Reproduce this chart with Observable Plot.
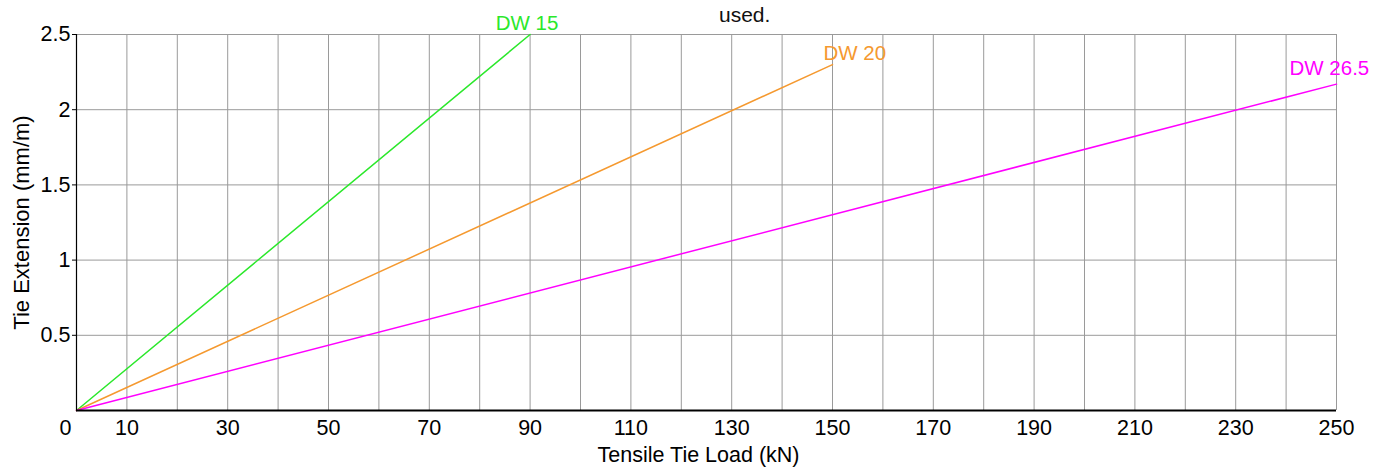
<!DOCTYPE html>
<html><head><meta charset="utf-8">
<script src="https://cdn.jsdelivr.net/npm/d3@7"></script>
<script src="https://cdn.jsdelivr.net/npm/@observablehq/plot@0.6"></script>
<style>
body{margin:0;background:#fff;font-family:"Liberation Sans",Arial,sans-serif;}
#wrap{position:relative;width:1386px;height:469px;overflow:hidden;}
#note{position:absolute;left:719px;top:5px;font-size:21px;line-height:20px;color:#111;white-space:nowrap;}
#chart{position:absolute;left:0;top:0;}
</style></head><body>
<div id="wrap"><div id="chart"></div><div id="note">used.</div></div>
<script>
const series = ["DW 15", "DW 20", "DW 26.5"];
const loadStart = [0, 0, 0];
const extStart = [0, 0, 0];
const loadEnd = [90, 150, 250];
const extEnd = [2.5, 2.3, 2.17];
const colors = ["#2be82b", "#f5992f", "#ff00ff"];
const xTickLabels = [0, 10, 30, 50, 70, 90, 110, 130, 150, 170, 190, 210, 230, 250];
const xGrid = [10, 20, 30, 40, 50, 60, 70, 80, 90, 100, 110, 120, 130, 140, 150, 160, 170, 180, 190, 200, 210, 220, 230, 240, 250];
const yTicks = [0.5, 1, 1.5, 2, 2.5];
const xTitle = "Tensile Tie Load (kN)";
const yTitle = "Tie Extension (mm/m)";

const rows = series.flatMap((s, i) => [
  {series: s, load: loadStart[i], ext: extStart[i]},
  {series: s, load: loadEnd[i], ext: extEnd[i]}
]);
const ends = series.map((s, i) => ({series: s, load: loadEnd[i], ext: extEnd[i]}));
const font = '"Liberation Sans", Arial, sans-serif';
const fs = 21.5;

const labelOpts = [
  {dx: -3, dy: -5, textAnchor: "middle"},
  {dx: -9, dy: -5, textAnchor: "start"},
  {dx: -47, dy: -9, textAnchor: "start"}
];

const plot = Plot.plot({
  width: 1386, height: 469,
  marginLeft: 76, marginRight: 50, marginTop: 34, marginBottom: 59,
  style: {fontFamily: font, fontSize: fs + "px", background: "transparent", color: "#000", overflow: "visible"},
  x: {domain: [0, 250]},
  y: {domain: [0, 2.5]},
  color: {domain: series, range: colors},
  marks: [
    Plot.gridX(xGrid, {stroke: "#9a9a9a", strokeOpacity: 1}),
    Plot.gridY(yTicks, {stroke: "#9a9a9a", strokeOpacity: 1}),
    Plot.line(rows, {x: "load", y: "ext", z: "series", stroke: "series", strokeWidth: 1.5}),
    Plot.ruleX([0], {stroke: "#000", strokeWidth: 1.2}),
    Plot.ruleY([0], {stroke: "#000", strokeWidth: 2}),
    Plot.axisX(xTickLabels.filter(d => d !== 0), {tickSize: 0, tickPadding: 9, label: null, fontSize: fs}),
    Plot.axisX(xTickLabels.filter(d => d === 0), {tickSize: 0, tickPadding: 9, label: null, dx: -11, fontSize: fs}),
    Plot.axisY(yTicks, {tickSize: 4, tickPadding: 2, label: null, fontSize: fs, tickFormat: d => String(d)}),
    ...series.map((s, i) => Plot.text(ends.filter(d => d.series === s), {
      x: "load", y: "ext", text: "series", fill: colors[i], fontSize: 20.5,
      lineAnchor: "bottom", ...labelOpts[i]
    })),
    Plot.text([xTitle], {frameAnchor: "bottom", dy: 45, dx: -8, fontSize: fs, textAnchor: "middle", lineAnchor: "middle"}),
    Plot.text([yTitle], {frameAnchor: "left", dx: -55, rotate: -90, fontSize: 22, textAnchor: "middle", lineAnchor: "middle"})
  ]
});
document.getElementById("chart").appendChild(plot);
</script>
</body></html>
